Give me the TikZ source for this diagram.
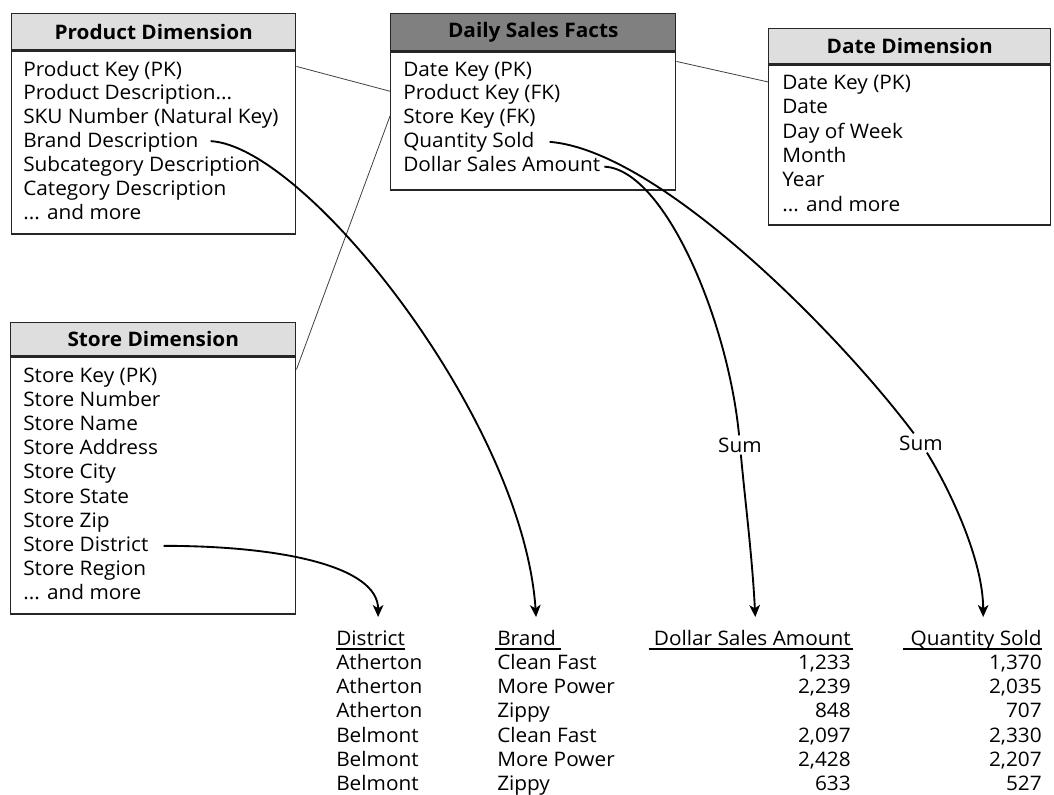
\documentclass[tikz,border=0pt]{standalone}
\usepackage{fontspec}
\setmainfont{Open Sans}[FakeStretch=1.04]
\usetikzlibrary{arrows.meta,calc}

\def\pxu{0.75pt}
\def\ellip{...}
\tikzset{
  body/.style={draw=black!85,line width=1.1pt,anchor=north west,inner sep=0pt},
  dimbar/.style={body,fill=black!13,font=\fontsize{15}{18}\selectfont\bfseries},
  factbar/.style={body,fill=black!50,font=\fontsize{15}{18}\selectfont\bfseries},
  item/.style={anchor=base west,inner sep=0pt},
  numitem/.style={anchor=base east,inner sep=0pt},
  link/.style={draw=black!75,line width=0.6pt},
  flow/.style={line width=1.4pt,->},
  sumlabel/.style={fill=white,inner sep=1.5pt},
  rule/.style={line width=1.1pt}
}

\begin{document}
\begin{tikzpicture}[x=0.75pt,y=-0.75pt,>={Stealth[length=9pt,width=8pt,inset=2.5pt]},
  font=\fontsize{15}{18}\selectfont]
\useasboundingbox (0,0) rectangle (1054,794);

% product dimension
\node[dimbar,minimum width=284*\pxu,minimum height=36*\pxu] (prodhd) at (11,13) {Product Dimension};
\node[body,minimum width=284*\pxu,minimum height=183*\pxu] (prodbody) at (prodhd.south west) {};
\foreach \txt [count=\i] in {{Product Key (PK)},{Product Description\ellip},{SKU Number (Natural Key)},
    {Brand Description},{Subcategory Description},{Category Description},{\ellip{} and more}}
  \node[item] (p\i) at (23,{76+23.9*(\i-1)}) {\txt};

% fact table
\node[factbar,minimum width=285*\pxu,minimum height=37*\pxu] (facthd) at (390,13) {Daily Sales Facts};
\node[body,minimum width=285*\pxu,minimum height=138*\pxu] (factbody) at (facthd.south west) {};
\foreach \txt [count=\i] in {{Date Key (PK)},{Product Key (FK)},{Store Key (FK)},
    {Quantity Sold},{Dollar Sales Amount}}
  \node[item] (f\i) at (403,{76+23.8*(\i-1)}) {\txt};

% date dimension
\node[dimbar,minimum width=282*\pxu,minimum height=35*\pxu] (datehd) at (768,28) {Date Dimension};
\node[body,minimum width=282*\pxu,minimum height=160*\pxu] (datebody) at (datehd.south west) {};
\foreach \txt [count=\i] in {{Date Key (PK)},Date,{Day of Week},Month,Year,{\ellip{} and more}}
  \node[item] (d\i) at (782,{89.5+24.3*(\i-1)}) {\txt};

% store dimension
\node[dimbar,minimum width=285*\pxu,minimum height=33*\pxu] (storehd) at (10,322) {Store Dimension};
\node[body,minimum width=285*\pxu,minimum height=257*\pxu] (storebody) at (storehd.south west) {};
\foreach \txt [count=\i] in {{Store Key (PK)},{Store Number},{Store Name},{Store Address},{Store City},
    {Store State},{Store Zip},{Store District},{Store Region},{\ellip{} and more}}
  \node[item] (s\i) at (23,{382+24.2*(\i-1)}) {\txt};

% key links
\draw[link] ($(p1.mid -| prodbody.east)+(0,-6)$) -- ($(f2.mid -| factbody.west)+(0,-5)$);
\draw[link] ($(s1.mid -| storebody.east)+(0,-9)$) -- ($(f3.mid -| factbody.west)+(0,-4)$);
\draw[link] ($(f1.mid -| factbody.east)+(0,-11)$) -- ($(d1.mid -| datebody.west)+(0,-4)$);

% result table
\node[item] (hDist) at (336,645) {District};
\node[item] (hBrand) at (497,645) {Brand};
\node[numitem] (hDollar) at (851,645) {Dollar Sales Amount};
\node[numitem] (hQty) at (1042,645) {Quantity Sold};
\draw[rule] ($(hDist.base west)+(0,4)$) -- ($(hDist.base east)+(0,4)$);
\draw[rule] ($(hBrand.base west)+(-2,4)$) -- ($(hBrand.base east)+(5,4)$);
\draw[rule] ($(hDollar.base west)+(-5,4)$) -- ($(hDollar.base east)+(2,4)$);
\draw[rule] ($(hQty.base west)+(-7,4)$) -- ($(hQty.base east)+(0,4)$);
\foreach \dist/\brand/\dsa/\qty [count=\i] in {Atherton/Clean Fast/1{,}233/1{,}370,
    Atherton/More Power/2{,}239/2{,}035,Atherton/Zippy/848/707,Belmont/Clean Fast/2{,}097/2{,}330,
    Belmont/More Power/2{,}428/2{,}207,Belmont/Zippy/633/527}{
  \node[item] (rd\i) at (336,{645+24.3*\i}) {\dist};
  \node[item] (rb\i) at (497,{645+24.3*\i}) {\brand};
  \node[numitem] (rs\i) at (851,{645+24.3*\i}) {\dsa};
  \node[numitem] (rq\i) at (1042,{645+24.3*\i}) {\qty};
}

% rollup arrows
\node[sumlabel] (sum1) at (740,445) {Sum};
\node[sumlabel] (sum2) at (921,443) {Sum};
\draw[flow] ($(s8.mid east)+(15,-2)$) .. controls +(120,0) and +(0,-50) .. ($(hDist.base)+(7.5,-28)$);
\draw[flow] ($(p4.mid east)+(12,-3)$) .. controls +(95,5) and +(-13,-197) .. ($(hBrand.base)+(9.5,-28)$);
\draw[flow] ($(f5.mid east)+(4,-1)$) .. controls +(60,3) and +(-12,-125) .. (sum1)
  .. controls +(5,55) and +(-3,-60) .. ($(hDollar.base)+(3,-28)$);
\draw[flow] ($(f4.mid east)+(15,-2)$) .. controls +(110,9) and +(-81,-108) .. (sum2)
  .. controls +(29,47) and +(0,-57) .. ($(hQty.base)+(7,-28)$);
\end{tikzpicture}
\end{document}
